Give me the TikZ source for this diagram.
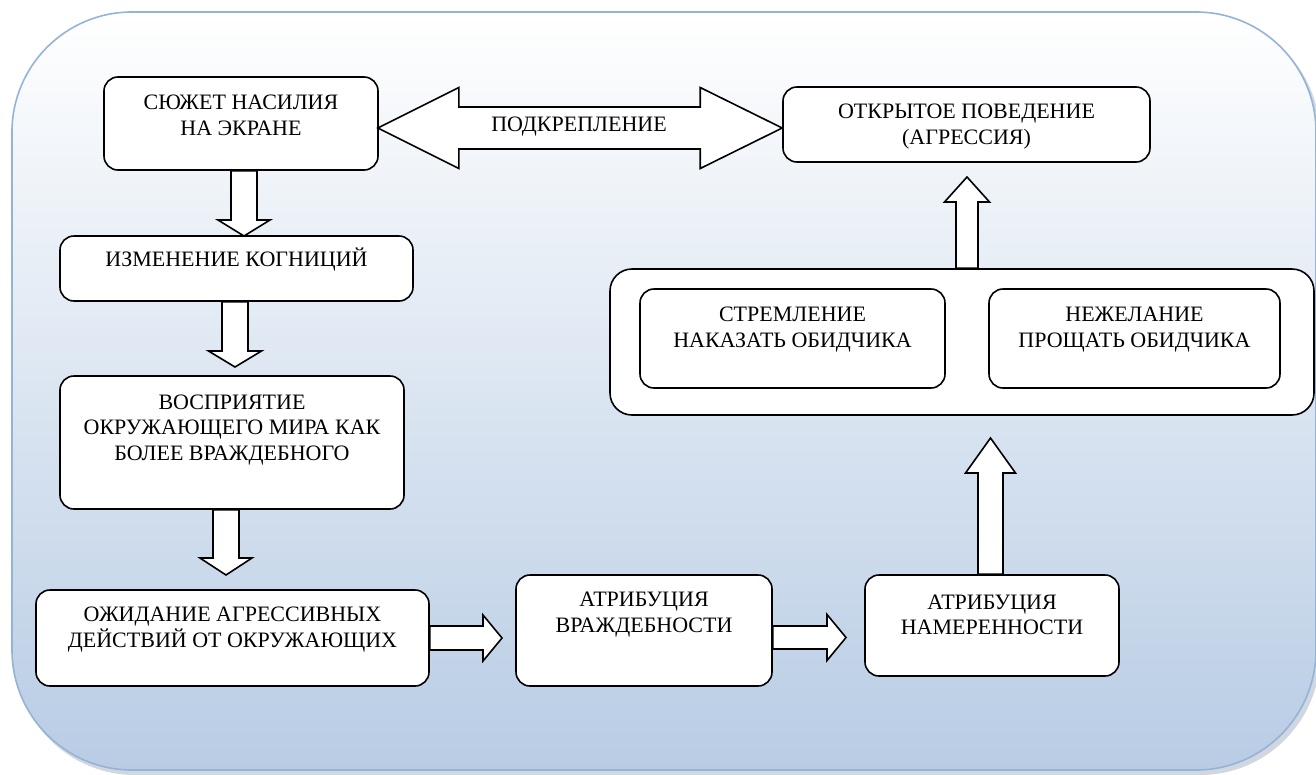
\documentclass[tikz,border=0pt]{standalone}
\usepackage{fontspec}
\setmainfont{Liberation Serif}
\usetikzlibrary{calc}
\definecolor{bgblue}{RGB}{184,204,228}
\definecolor{bgline}{RGB}{149,179,215}
\definecolor{shadowc}{RGB}{120,140,170}
\tikzset{
  box/.style={draw=black, fill=white, line width=1.6pt, rounded corners=14pt, rectangle, inner sep=0pt},
  txt/.style={align=center, inner sep=0pt, font=\fontsize{22}{25.5}\selectfont},
  blk/.style={draw=black, fill=white, line width=1.6pt, line join=miter},
}
% block arrows: #1 start anchor, #2 tip, #3 half shaft, #4 half head, #5 head length
\newcommand\blkdown[5]{\draw[blk] let \p1=(#1), \p2=(#2) in
  (\x2-#3pt,\y1) -- (\x2-#3pt,\y2+#5pt) -- (\x2-#4pt,\y2+#5pt) -- (\x2,\y2)
  -- (\x2+#4pt,\y2+#5pt) -- (\x2+#3pt,\y2+#5pt) -- (\x2+#3pt,\y1) -- cycle;}
\newcommand\blkup[5]{\draw[blk] let \p1=(#1), \p2=(#2) in
  (\x2-#3pt,\y1) -- (\x2-#3pt,\y2-#5pt) -- (\x2-#4pt,\y2-#5pt) -- (\x2,\y2)
  -- (\x2+#4pt,\y2-#5pt) -- (\x2+#3pt,\y2-#5pt) -- (\x2+#3pt,\y1) -- cycle;}
\newcommand\blkright[5]{\draw[blk] let \p1=(#1), \p2=(#2) in
  (\x1,\y2+#3pt) -- (\x2-#5pt,\y2+#3pt) -- (\x2-#5pt,\y2+#4pt) -- (\x2,\y2)
  -- (\x2-#5pt,\y2-#4pt) -- (\x2-#5pt,\y2-#3pt) -- (\x1,\y2-#3pt) -- cycle;}
\begin{document}
\begin{tikzpicture}[x=1pt, y=-1pt]
\useasboundingbox (0,0) rectangle (1316,774);
% background
\fill[shadowc, opacity=0.35, rounded corners=120pt] (15,16) rectangle (1320,775);
\shade[top color=white, bottom color=bgblue, rounded corners=120pt] (12,12) rectangle (1316,770);
\draw[bgline, line width=1.6pt, rounded corners=120pt] (12,12) rectangle (1316,770);

% boxes
\node[box, minimum width=274pt, minimum height=93pt] (b1) at (241,123.5) {};
\node[box, minimum width=353pt, minimum height=65pt] (b2) at (236.5,268.5) {};
\node[box, minimum width=344pt, minimum height=133pt] (b3) at (232,442.5) {};
\node[box, minimum width=393pt, minimum height=96pt] (b4) at (232.5,638) {};
\node[box, minimum width=256pt, minimum height=111pt] (b5) at (644,630.5) {};
\node[box, minimum width=254pt, minimum height=101pt] (b6) at (992,625.5) {};
\node[box, minimum width=704pt, minimum height=146pt, rounded corners=22pt] (cont) at (962,342) {};
\node[box, minimum width=305pt, minimum height=99pt] (b8) at (792.5,338.5) {};
\node[box, minimum width=291pt, minimum height=99pt] (b9) at (1134.5,338.5) {};
\node[box, minimum width=367pt, minimum height=75pt] (b7) at (966.5,124.5) {};

% texts
\node[txt] (t1) at (241,115.5) {СЮЖЕТ НАСИЛИЯ\\НА ЭКРАНЕ};
\node[txt] (t2) at (236.5,260) {ИЗМЕНЕНИЕ КОГНИЦИЙ};
\node[txt] (t3) at (232,430) {ВОСПРИЯТИЕ\\ОКРУЖАЮЩЕГО МИРА КАК\\БОЛЕЕ ВРАЖДЕБНОГО};
\node[txt] (t4) at (232.5,629.5) {ОЖИДАНИЕ АГРЕССИВНЫХ\\ДЕЙСТВИЙ ОТ ОКРУЖАЮЩИХ};
\node[txt] (t5) at (644,614.5) {АТРИБУЦИЯ\\ВРАЖДЕБНОСТИ};
\node[txt] (t6) at (992,615) {АТРИБУЦИЯ\\НАМЕРЕННОСТИ};
\node[txt] (t7) at (966.5,126.5) {ОТКРЫТОЕ ПОВЕДЕНИЕ\\(АГРЕССИЯ)};
\node[txt] (t8) at (792.5,329.5) {СТРЕМЛЕНИЕ\\НАКАЗАТЬ ОБИДЧИКА};
\node[txt] (t9) at (1134.5,329.5) {НЕЖЕЛАНИЕ\\ПРОЩАТЬ ОБИДЧИКА};

% tips of block arrows
\coordinate (p1) at (244,236);
\coordinate (p2) at (235,367);
\coordinate (p3) at (226,575);
\coordinate (p4) at (502,638);
\coordinate (p5) at (846,637.5);
\coordinate (p6) at (990.5,438);
\coordinate (p7) at (967,177);

\blkdown{b1.south}{p1}{13}{26}{16}
\blkdown{b2.south}{p2}{13}{26.5}{16}
\blkdown{b3.south}{p3}{13}{26}{17}
\blkright{b4.east}{p4}{12}{23}{19}
\blkright{b5.east}{p5}{11.5}{23}{19}
\blkup{b6.north}{p6}{12.5}{25}{35}
\blkup{cont.north}{p7}{11}{22.5}{25}

% double arrow between b1 and b7
\draw[blk] let \p1=(b1.east), \p2=(b7.west) in
  (\x1-1pt,-128pt) -- (\x1+80pt,-87.5pt) -- (\x1+80pt,-107pt) -- (\x2-82pt,-107pt)
  -- (\x2-82pt,-87.5pt) -- (\x2,-128pt) -- (\x2-82pt,-168.5pt) -- (\x2-82pt,-149pt)
  -- (\x1+80pt,-149pt) -- (\x1+80pt,-168.5pt) -- cycle;
\node[txt] (t0) at (579,127) {ПОДКРЕПЛЕНИЕ};
\end{tikzpicture}
\end{document}
